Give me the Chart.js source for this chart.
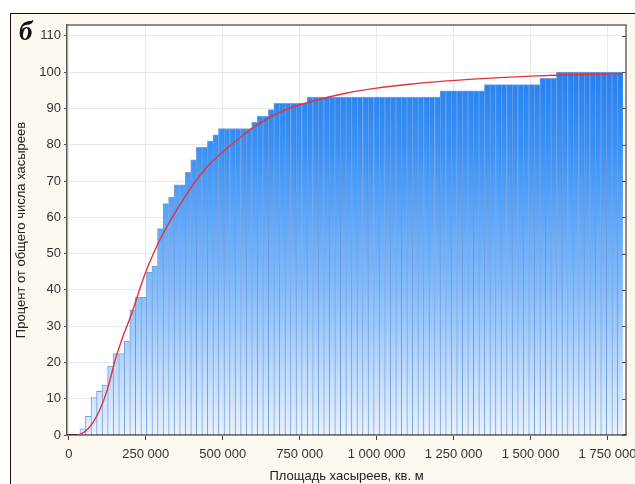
<!DOCTYPE html>
<html>
<head>
<meta charset="utf-8">
<script src="https://cdn.jsdelivr.net/npm/chart.js@4.4.1/dist/chart.umd.min.js"></script>
<style>
  html, body { margin: 0; padding: 0; background: #fff; width: 635px; height: 484px; overflow: hidden; }
  #frame { position: absolute; left: 10px; top: 13px; width: 700px; height: 600px;
           border-top: 1.5px solid #111; border-left: 1.5px solid #111; background: #fdf9ef; }
  #chart { position: absolute; left: 0; top: 0; }
  #letter { position: absolute; left: 19px; top: 16px; font: italic bold 27px 'Liberation Serif', 'DejaVu Serif', serif; color: #111; }
</style>
</head>
<body>
<div id="frame"></div>
<canvas id="chart" width="635" height="484"></canvas>
<div id="letter">б</div>
<script>
// histogram bins: 18 000 m² each, starting at 0
const binWidth = 18000;

// cumulative percent per bin
const cumPercent = [
  0, 0, 1.72, 5.17, 10.34, 12.07, 13.79, 18.97, 22.41, 22.41,
  25.86, 34.48, 37.93, 37.93, 44.83, 46.55, 56.90, 63.79, 65.52, 68.97,
  68.97, 72.41, 75.86, 79.31, 79.31, 81.03, 82.76, 84.48, 84.48, 84.48,
  84.48, 84.48, 84.48, 86.21, 87.93, 87.93, 89.66, 91.38, 91.38, 91.38,
  91.38, 91.38, 91.38, 93.10, 93.10, 93.10, 93.10, 93.10, 93.10, 93.10,
  93.10, 93.10, 93.10, 93.10, 93.10, 93.10, 93.10, 93.10, 93.10, 93.10,
  93.10, 93.10, 93.10, 93.10, 93.10, 93.10, 93.10, 94.83, 94.83, 94.83,
  94.83, 94.83, 94.83, 94.83, 94.83, 96.55, 96.55, 96.55, 96.55, 96.55,
  96.55, 96.55, 96.55, 96.55, 96.55, 98.28, 98.28, 98.28, 100, 100,
  100, 100, 100, 100, 100, 100, 100, 100, 100, 100
];

// fitted distribution curve
const curveX = [30000, 50000, 75000, 100000, 125000, 150000, 175000, 200000, 250000, 300000,
  350000, 400000, 450000, 500000, 550000, 600000, 700000, 800000, 900000, 1000000,
  1100000, 1200000, 1300000, 1400000, 1500000, 1600000, 1700000, 1800000];
const curveY = [0, 0.8, 3, 6.8, 12.5, 20.5, 27, 32.5, 45, 54.5,
  62, 68.5, 74, 78, 81.5, 84.8, 89.5, 92.2, 94.2, 95.6,
  96.6, 97.4, 98, 98.5, 98.9, 99.2, 99.4, 99.6];

const xTicks = [0, 250000, 500000, 750000, 1000000, 1250000, 1500000, 1750000];
const yTicks = [0, 10, 20, 30, 40, 50, 60, 70, 80, 90, 100, 110];

const barData = cumPercent.map((v, i) => ({ x: (i + 0.5) * binWidth, y: v }));
const lineData = curveX.map((x, i) => ({ x, y: curveY[i] }));

function spaced(v) {
  return String(v).replace(/\B(?=(\d{3})+(?!\d))/g, ' ');
}

let grad = null;
function barFill(context) {
  const { chart } = context;
  const area = chart.chartArea;
  if (!area) return '#5aa6f8';
  if (!grad) {
    grad = chart.ctx.createLinearGradient(0, area.top, 0, area.bottom);
    grad.addColorStop(0, '#1577f0');
    grad.addColorStop(0.3, '#3a92f6');
    grad.addColorStop(0.65, '#86bdfa');
    grad.addColorStop(1, '#e8f2ff');
  }
  return grad;
}

const frameBits = {
  id: 'frameBits',
  beforeDraw(chart) {
    const { ctx, chartArea: a } = chart;
    ctx.save();
    ctx.fillStyle = '#fff';
    ctx.fillRect(a.left, a.top, a.right - a.left, a.bottom - a.top);
    ctx.restore();
  },
  afterDraw(chart) {
    const { ctx, chartArea: a } = chart;
    const ys = chart.scales.y;
    ctx.save();
    ctx.strokeStyle = '#6a6a6a';
    ctx.lineWidth = 1.5;
    ctx.beginPath();
    ctx.moveTo(a.left, a.top);
    ctx.lineTo(a.right, a.top);
    ctx.lineTo(a.right, a.bottom);
    ctx.stroke();
    // inward ticks on the right side
    ctx.lineWidth = 1;
    ctx.strokeStyle = '#555';
    ys.ticks.forEach(t => {
      const py = Math.round(ys.getPixelForValue(t.value)) + 0.5;
      ctx.beginPath();
      ctx.moveTo(a.right, py);
      ctx.lineTo(a.right - 4, py);
      ctx.stroke();
    });
    ctx.restore();
  }
};

const tickFont = { family: "'Liberation Sans', Arial, sans-serif", size: 13 };
const titleFont = { family: "'Liberation Sans', Arial, sans-serif", size: 13 };

new Chart(document.getElementById('chart'), {
  data: {
    datasets: [
      {
        type: 'line',
        data: lineData,
        borderColor: '#e5323a',
        borderWidth: 1.4,
        pointRadius: 0,
        cubicInterpolationMode: 'monotone',
        order: 0
      },
      {
        type: 'bar',
        data: barData,
        backgroundColor: barFill,
        borderColor: 'rgba(30, 95, 200, 0.6)',
        borderWidth: { left: 1, top: 1, right: 0, bottom: 0 },
        borderSkipped: false,
        barPercentage: 1,
        categoryPercentage: 1,
        grouped: false,
        order: 1
      }
    ]
  },
  options: {
    responsive: false,
    animation: false,
    devicePixelRatio: 1,
    layout: { padding: { left: 10, top: 25, right: 9, bottom: 0 } },
    plugins: { legend: { display: false }, tooltip: { enabled: false } },
    scales: {
      x: {
        type: 'linear',
        min: -6000,
        max: 1810000,
        offset: false,
        afterBuildTicks: s => { s.ticks = xTicks.map(v => ({ value: v })); },
        afterFit: s => { s.height = 49; s.paddingLeft = 0; s.paddingRight = 0; },
        ticks: {
          autoSkip: false,
          maxRotation: 0,
          minRotation: 0,
          padding: 7,
          color: '#333',
          font: tickFont,
          callback: v => spaced(v)
        },
        grid: { offset: false, color: '#e9e9e9', tickColor: '#444', tickLength: 5, lineWidth: 1 },
        border: { color: '#333', width: 1.5 },
        title: {
          display: true,
          text: 'Площадь хасыреев, кв. м',
          color: '#222',
          font: titleFont,
          padding: { top: 0, bottom: 0 }
        }
      },
      y: {
        type: 'linear',
        min: 0,
        max: 113,
        afterBuildTicks: s => { s.ticks = yTicks.map(v => ({ value: v })); },
        afterFit: s => { s.width = 57; s.paddingTop = 0; s.paddingBottom = 0; },
        ticks: { autoSkip: false, padding: 3, color: '#333', font: tickFont },
        grid: { color: '#e9e9e9', tickColor: '#555', tickLength: 3 },
        border: { color: '#555', width: 1.5 },
        title: {
          display: true,
          text: 'Процент от общего числа хасыреев',
          color: '#222',
          font: titleFont,
          padding: { top: 4, bottom: 0 }
        }
      }
    }
  },
  plugins: [frameBits]
});
</script>
</body>
</html>
